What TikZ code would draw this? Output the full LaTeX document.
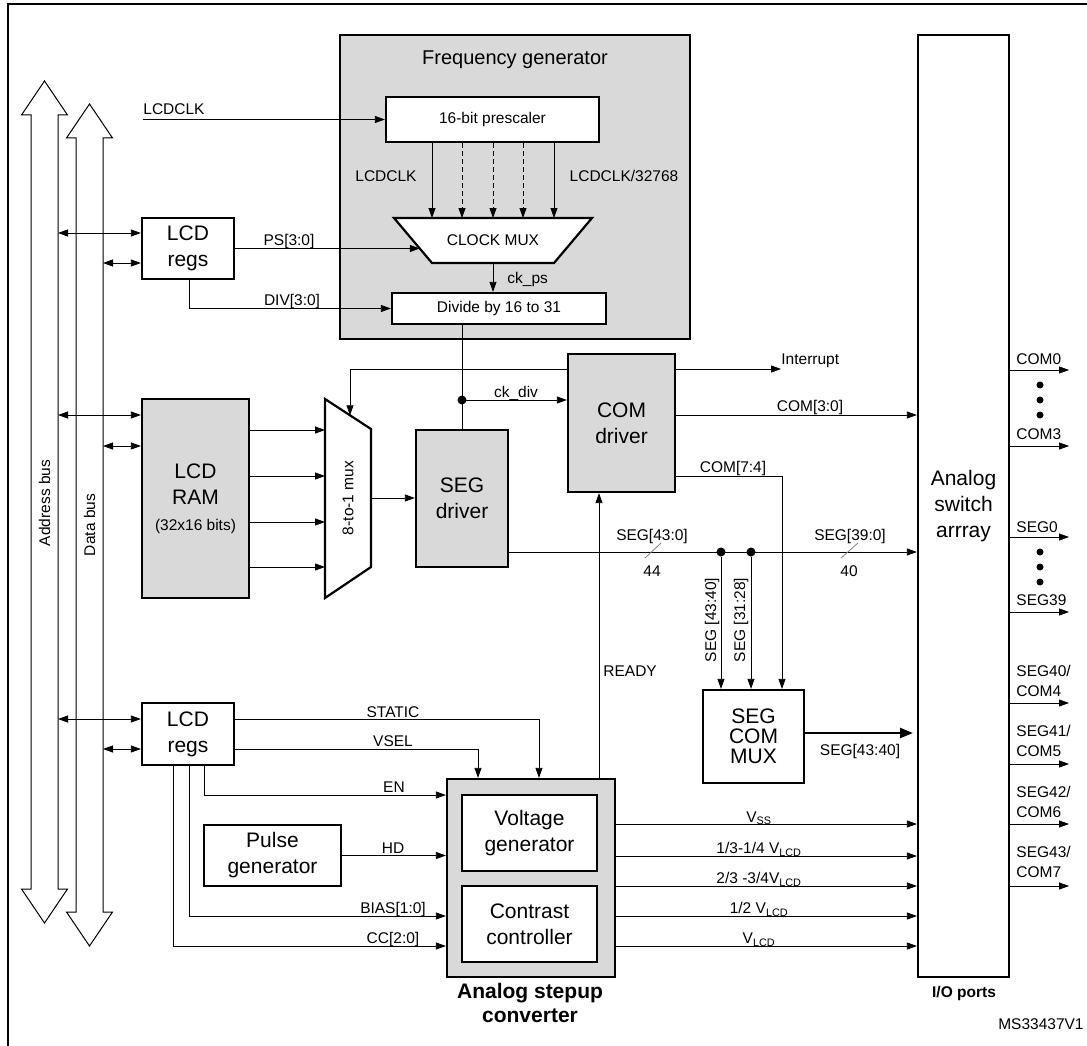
\documentclass[tikz,border=0pt]{standalone}
\usepackage{fontspec}
\setmainfont{Liberation Sans}
\usepackage{tikz}
\usetikzlibrary{arrows.meta,calc}

\newcommand\lblfont{\fontsize{15.5}{20}\selectfont}
\newcommand\boxfont{\fontsize{21}{26}\selectfont}

\begin{document}
\begin{tikzpicture}[x=1pt, y=-1pt, line width=0.8pt, >={Triangle[length=10pt, width=7pt]},
	blk/.style={draw, line width=2.2pt, fill=white, align=center, inner sep=0pt, font=\boxfont},
	gblk/.style={blk, fill=black!15},
	tag/.style={font=\lblfont, anchor=base, inner sep=0pt},
	jdot/.style={circle, fill=black, inner sep=0pt, minimum size=9pt},
	tapline/.style={dash pattern=on 5pt off 3pt}]
	\useasboundingbox (0,0) rectangle (1087,1046);
	\draw[line width=2pt] (8,1046) -- (8,4) -- (1087,4);
	\foreach \cx/\ty/\by in {44.5/81/923, 89.5/104/946}
		\draw[line width=1pt, fill=white] (\cx,\ty) -- ++(23,34) -- ++(-9.5,0) -- (\cx+13.5,\by-34) -- ++(9.5,0) -- (\cx,\by) -- ++(-23,-34) -- ++(9.5,0) -- (\cx-13.5,\ty+34) -- ++(-9.5,0) -- cycle;
	\coordinate (abus) at (58,0);
	\coordinate (dbus) at (103,0);
	\node[font=\lblfont, rotate=90] (abustxt) at (44.5,503) {Address bus};
	\node[font=\lblfont, rotate=90] (dbustxt) at (89.5,525) {Data bus};

	\node[gblk, minimum width=350, minimum height=304] (fg) at (515,187) {};
	\node[tag, font=\fontsize{20}{24}\selectfont] (fgtitle) at (515,65) {Frequency generator};
	\node[blk, font=\lblfont, minimum width=213, minimum height=45] (pre) at (492.5,119.5) {16-bit prescaler};
	\draw[line width=2.2pt, fill=white] (394,218) coordinate (cm-tl) -- (592,218) coordinate (cm-tr) -- (554,263) coordinate (cm-br) -- (432,263) coordinate (cm-bl) -- cycle;
	\node[font=\lblfont] (cmux) at (493,240.5) {CLOCK MUX};
	\node[blk, font=\lblfont, minimum width=214, minimum height=31] (div) at (499,308.5) {Divide by 16 to 31};
	\node[blk, minimum width=92, minimum height=61] (regs1) at (188,248.5) {LCD\\regs};
	\node[gblk, minimum width=107, minimum height=199] (ram) at (195.5,498.5) {LCD\\RAM\\{\lblfont (32x16 bits)}};
	\draw[line width=2.2pt, fill=white] (325,399) coordinate (mx-tl) -- (371,429) coordinate (mx-tr) -- (371,567) coordinate (mx-br) -- (325,598) coordinate (mx-bl) -- cycle;
	\node[font=\lblfont, rotate=90] (mux) at (348,498) {8-to-1 mux};
	\node[gblk, minimum width=92, minimum height=137] (segdrv) at (462,498.5) {SEG\\driver};
	\node[gblk, minimum width=107, minimum height=138] (comdrv) at (621.5,423) {COM\\driver};
	\node[blk, minimum width=91, minimum height=942] (asw) at (963.5,506) {Analog\\switch\\arrray};
	\node[blk, minimum width=101, minimum height=93, font=\fontsize{21}{20}\selectfont] (scmux) at (753.5,736.5) {SEG\\COM\\MUX};
	\node[blk, minimum width=92, minimum height=62] (regs2) at (188,734) {LCD\\regs};
	\node[blk, minimum width=137, minimum height=61] (pulse) at (272.5,855.5) {Pulse\\generator};
	\node[gblk, minimum width=168, minimum height=198] (stepup) at (531,878) {};
	\node[blk, minimum width=135, minimum height=76] (vgen) at (529.5,833) {Voltage\\generator};
	\node[blk, minimum width=135, minimum height=76] (cctl) at (529.5,924) {Contrast\\controller};

	\draw[<->] (abus |- 0,233) -- (regs1.west |- 0,233);
	\draw[<->] (dbus |- 0,263) -- (regs1.west |- 0,263);
	\draw[<->] (abus |- 0,415) -- (ram.west |- 0,415);
	\draw[<->] (dbus |- 0,446) -- (ram.west |- 0,446);
	\draw[<->] (abus |- 0,719) -- (regs2.west |- 0,719);
	\draw[<->] (dbus |- 0,749) -- (regs2.west |- 0,749);

	\coordinate (clkin) at (143,119.5);
	\draw[->] (clkin) -- (pre.west);
	\node[tag, anchor=base west] (clklbl) at (143,115) {LCDCLK};
	\foreach \xx/\ls in {432/solid, 462/tapline, 493/tapline, 523/tapline, 554/solid}
		\draw[->, \ls] (\xx,0 |- pre.south) -- (\xx,0 |- cm-tl);
	\node[tag] (lclk) at (386,182) {LCDCLK};
	\node[tag] (lclk32) at (624,182) {LCDCLK/32768};
	\coordinate (psend) at ($(cm-tl)!0.678!(cm-bl)$);
	\draw[->] (regs1.east) -- (regs1.east -| psend);
	\node[tag] (pslbl) at (289,245) {PS[3:0]};
	\coordinate (cm-b) at ($(cm-bl)!0.5!(cm-br)$);
	\draw[->] (cm-b) -- (cm-b |- div.north);
	\node[tag, anchor=base west] (ckps) at (507,283) {ck\_ps};
	\draw[->] (regs1.south -| 189,0) |- (div.west);
	\node[tag] (divlbl) at (292,305) {DIV[3:0]};

	\draw (div.south -| segdrv.north) -- (segdrv.north);
	\coordinate (ckdot) at (462,400);
	\node[jdot] (ckj) at (ckdot) {};
	\draw[->] (ckdot) -- (ckdot -| comdrv.west);
	\node[tag] (ckdiv) at (516,397) {ck\_div};
	\coordinate (mxin) at ($(mx-tl)!0.543!(mx-tr)$);
	\draw[->] (comdrv.west |- 0,369) -| (mxin);
	\draw[->] (ram.east |- 0,430) -- (mx-tl |- 0,430);
	\foreach \yy in {476,522,567}
		\draw[->] (ram.east |- 0,\yy) -- (mx-tl |- 0,\yy);
	\draw[->] (mx-tr |- mux) -- (segdrv.west |- mux);

	\coordinate (intr) at (781,369);
	\draw[->] (comdrv.east |- intr) -- (intr);
	\node[tag, anchor=base west] (intlbl) at (781,364) {Interrupt};
	\draw[->] (comdrv.east |- 0,415) -- (asw.west |- 0,415);
	\node[tag] (com30) at (810,411) {COM[3:0]};
	\draw[->] (comdrv.east |- 0,476) -| (782,0 |- scmux.north);
	\node[tag] (com74) at (733,472) {COM[7:4]};

	\draw[->] (segdrv.east |- 0,552) -- (asw.west |- 0,552);
	\node[tag] (seg430) at (652,540) {SEG[43:0]};
	\node[tag] (n44) at (652,576) {44};
	\node[tag] (seg390) at (850,540) {SEG[39:0]};
	\node[tag] (n40) at (849,576) {40};
	\draw[gray] (645,558) -- (661,543);
	\draw[gray] (841,558) -- (858,543);
	\node[jdot] (ja) at (721,552) {};
	\node[jdot] (jb) at (751,552) {};
	\draw[->] (ja) -- (ja |- scmux.north);
	\draw[->] (jb) -- (jb |- scmux.north);
	\node[font=\lblfont, rotate=90] (s4340) at (712,620) {SEG [43:40]};
	\node[font=\lblfont, rotate=90] (s3128) at (741,620) {SEG [31:28]};
	\draw[->] (stepup.north -| 599,0) -- (comdrv.south -| 599,0);
	\node[tag, anchor=base west] (ready) at (603,676.5) {READY};
	\coordinate (smout) at (913,733);
	\draw[-{Triangle[length=13pt, width=10pt]}, line width=2.4pt] (scmux.east |- smout) -- (smout);
	\node[tag] (s4340o) at (860,755) {SEG[43:40]};

	\foreach \yy in {370,446,537,612,703,764,824,886}
		\draw[->] (asw.east |- 0,\yy) -- (1069,\yy);
	\foreach \yy/\txt in {364/COM0, 439/COM3, 532/SEG0, 605/SEG39}
		\node[tag, anchor=base west] (o\yy) at (1016,\yy) {\txt};
	\foreach \yy/\a/\b in {681/40/4, 741/41/5, 802/42/6, 862/43/7}
		\node[font=\lblfont, anchor=west, align=left, inner sep=0pt] (sc\a) at (1016,\yy) {SEG\a/\\COM\b};
	\foreach \yy in {385,400,415,552,567,582}
		\node[jdot, minimum size=7pt] (v\yy) at (1040,\yy) {};

	\draw[->] (regs2.east |- 0,719) -| (539,0 |- stepup.north);
	\node[tag] (static) at (393,717) {STATIC};
	\draw[->] (regs2.east |- 0,749) -| (478,0 |- stepup.north);
	\node[tag] (vsel) at (393,746.5) {VSEL};
	\draw[->] (regs2.south -| 204,0) |- (stepup.west |- 0,795);
	\node[tag] (en) at (394,792.5) {EN};
	\draw[->] (pulse.east) -- (stepup.west |- pulse.east);
	\node[tag] (hd) at (393,853.5) {HD};
	\draw[->] (regs2.south -| 189,0) |- (stepup.west |- 0,916);
	\node[tag] (bias) at (393,913.5) {BIAS[1:0]};
	\draw[->] (regs2.south -| 173,0) |- (stepup.west |- 0,946);
	\node[tag] (cc) at (393,943.5) {CC[2:0]};

	\foreach \yy in {824,856,886,916,946}
		\draw[->] (stepup.east |- 0,\yy) -- (asw.west |- 0,\yy);
	\node[tag] (vss) at (759,822) {V\textsubscript{SS}};
	\node[tag] (v13) at (759,853.5) {1/3-1/4 V\textsubscript{LCD}};
	\node[tag] (v23) at (759,883.5) {2/3 -3/4V\textsubscript{LCD}};
	\node[tag] (v12) at (759,913.5) {1/2 V\textsubscript{LCD}};
	\node[tag] (vlcd) at (759,943.5) {V\textsubscript{LCD}};

	\node[font=\bfseries\fontsize{21}{24}\selectfont, align=center, anchor=north, inner sep=0pt] (stepuptxt) at (530,983) {Analog stepup\\converter};
	\node[tag, font=\bfseries\lblfont] (ioports) at (964,997) {I/O ports};
	\node[tag, anchor=base east] (msid) at (1084,1029) {MS33437V1};
\end{tikzpicture}
\end{document}
